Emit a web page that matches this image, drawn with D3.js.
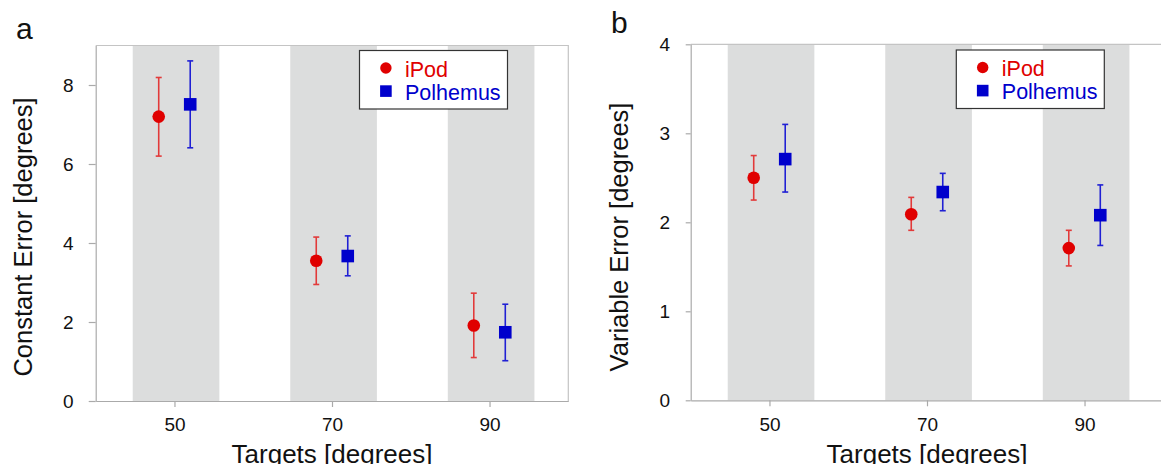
<!DOCTYPE html>
<html>
<head>
<meta charset="utf-8">
<script src="https://cdn.jsdelivr.net/npm/d3@7"></script>
<style>
  body { margin: 0; background: #fff; }
  svg { display: block; font-family: "Liberation Sans", Arial, sans-serif; }
</style>
</head>
<body>
<div id="chart"></div>
<script>
var targets = [50, 70, 90];
var series = ["iPod", "Polhemus"];
var offsets = [-2, 2];   // each series sits 2 degrees either side of its target

// panel a: constant error
var ipodCE     = [7.20, 3.55, 1.91];
var ipodCElo   = [6.20, 2.95, 1.10];
var ipodCEhi   = [8.19, 4.15, 2.73];
var polCE      = [7.51, 3.67, 1.74];
var polCElo    = [6.41, 3.17, 1.02];
var polCEhi    = [8.61, 4.18, 2.45];

// panel b: variable error
var ipodVE     = [2.50, 2.09, 1.71];
var ipodVElo   = [2.25, 1.91, 1.51];
var ipodVEhi   = [2.75, 2.28, 1.91];
var polVE      = [2.71, 2.34, 2.08];
var polVElo    = [2.34, 2.13, 1.74];
var polVEhi    = [3.10, 2.55, 2.42];

var ticksA = [0, 2, 4, 6, 8];
var ticksB = [0, 1, 2, 3, 4];

var colors = { iPod: "#e00000", Polhemus: "#0000cc" };
var barColors = { iPod: "#e23a3a", Polhemus: "#2020d4" };

var svg = d3.select("#chart").append("svg")
    .attr("width", 1161)
    .attr("height", 464);

function rows(mean, lo, hi, s, k) {
  return targets.map(function(t, i) {
    return { series: s, x: t + offsets[k], y: mean[i], lo: lo[i], hi: hi[i] };
  });
}

function panel(opt) {
  var x = d3.scaleLinear().domain([40, 100]).range([opt.left, opt.left + 472.6]);
  var y = d3.scaleLinear().domain([0, opt.ymax]).range([opt.bottom, opt.top]);
  var g = svg.append("g");

  // grey bands round each target
  g.selectAll("rect.band").data(targets).enter().append("rect")
    .attr("class", "band")
    .attr("x", function(d) { return x(d - 5.3); })
    .attr("width", function(d) { return x(d + 5.7) - x(d - 5.3); })
    .attr("y", y(opt.ymax))
    .attr("height", y(0) - y(opt.ymax))
    .attr("fill", "#dcdddd");

  // frame top and right
  g.append("path")
    .attr("d", "M" + x(40) + "," + y(opt.ymax) + "H" + x(100) + "V" + y(0))
    .attr("fill", "none")
    .attr("stroke", "#c4c4c4")
    .attr("stroke-width", 1.2);

  // axes
  var ya = g.append("g")
    .attr("transform", "translate(" + x(40) + ",0)")
    .call(d3.axisLeft(y).tickValues(opt.ticks).tickFormat(d3.format("d"))
      .tickSize(opt.tickLen).tickPadding(opt.pad).tickSizeOuter(0));
  var xa = g.append("g")
    .attr("transform", "translate(0," + y(0) + ")")
    .call(d3.axisBottom(x).tickValues(targets).tickSize(6).tickPadding(11).tickSizeOuter(0));
  [ya, xa].forEach(function(a) {
    a.attr("font-size", 19).attr("font-family", "Liberation Sans, Arial, sans-serif");
    a.select(".domain").attr("stroke", "#aaaaaa").attr("stroke-width", 1.2);
    a.selectAll(".tick line").attr("stroke", "#aaaaaa").attr("stroke-width", 1.2);
    a.selectAll(".tick text").attr("fill", "#111");
  });

  // error bars and markers
  var data = rows(opt.ipod[0], opt.ipod[1], opt.ipod[2], "iPod", 0)
    .concat(rows(opt.pol[0], opt.pol[1], opt.pol[2], "Polhemus", 1));

  var eb = g.selectAll("g.eb").data(data).enter().append("g").attr("class", "eb")
    .attr("stroke", function(d) { return barColors[d.series]; })
    .attr("stroke-width", 1.6);
  eb.append("line")
    .attr("x1", function(d) { return x(d.x); }).attr("x2", function(d) { return x(d.x); })
    .attr("y1", function(d) { return y(d.lo); }).attr("y2", function(d) { return y(d.hi); });
  eb.append("line")
    .attr("x1", function(d) { return x(d.x) - 3; }).attr("x2", function(d) { return x(d.x) + 3; })
    .attr("y1", function(d) { return y(d.lo); }).attr("y2", function(d) { return y(d.lo); });
  eb.append("line")
    .attr("x1", function(d) { return x(d.x) - 3; }).attr("x2", function(d) { return x(d.x) + 3; })
    .attr("y1", function(d) { return y(d.hi); }).attr("y2", function(d) { return y(d.hi); });

  g.selectAll("circle.pt").data(data.filter(function(d) { return d.series == "iPod"; }))
    .enter().append("circle").attr("class", "pt")
    .attr("cx", function(d) { return x(d.x); })
    .attr("cy", function(d) { return y(d.y); })
    .attr("r", 6.3)
    .attr("fill", colors.iPod);
  g.selectAll("rect.pt").data(data.filter(function(d) { return d.series == "Polhemus"; }))
    .enter().append("rect").attr("class", "pt")
    .attr("x", function(d) { return x(d.x) - 6.3; })
    .attr("y", function(d) { return y(d.y) - 6.3; })
    .attr("width", 12.6).attr("height", 12.6)
    .attr("fill", colors.Polhemus);

  // legend
  var lg = g.append("g").attr("transform", "translate(" + opt.legX + "," + opt.legY + ")");
  lg.append("rect").attr("width", 148).attr("height", 58.5)
    .attr("fill", "#fff").attr("stroke", "#333").attr("stroke-width", 1.2);
  lg.append("circle").attr("cx", 26.4).attr("cy", 17.5).attr("r", 5.7).attr("fill", colors.iPod);
  lg.append("rect").attr("x", 20.6).attr("y", 34.8).attr("width", 11.6).attr("height", 11.6).attr("fill", colors.Polhemus);
  lg.selectAll("text").data(series).enter().append("text")
    .attr("x", 45.5)
    .attr("y", function(d, i) { return 26 + i * 23; })
    .attr("font-size", 21.5)
    .attr("fill", function(d) { return colors[d]; })
    .text(function(d) { return d; });

  // titles
  svg.append("text")
    .attr("x", (x(40) + x(100)) / 2)
    .attr("y", 462.5)
    .attr("text-anchor", "middle")
    .attr("font-size", 26)
    .attr("fill", "#111")
    .text("Targets [degrees]");
  svg.append("text")
    .attr("transform", "translate(" + opt.yTitleX + ",237) rotate(-90)")
    .attr("text-anchor", "middle")
    .attr("font-size", 25.5)
    .attr("fill", "#111")
    .text(opt.yTitle);
  svg.append("text")
    .attr("x", opt.letterX)
    .attr("y", opt.letterY)
    .attr("font-size", 30)
    .attr("fill", "#111")
    .text(opt.letter);
}

panel({
  left: 95.7, top: 45.5, bottom: 401, ymax: 9, ticks: ticksA,
  tickLen: 7, pad: 15,
  ipod: [ipodCE, ipodCElo, ipodCEhi], pol: [polCE, polCElo, polCEhi],
  legX: 359.5, legY: 50.5,
  yTitle: "Constant Error [degrees]", yTitleX: 32, letter: "a", letterX: 16, letterY: 39
});

panel({
  left: 690.7, top: 44.3, bottom: 400.3, ymax: 4, ticks: ticksB,
  tickLen: 5, pad: 15.5,
  ipod: [ipodVE, ipodVElo, ipodVEhi], pol: [polVE, polVElo, polVEhi],
  legX: 956.3, legY: 50,
  yTitle: "Variable Error [degrees]", yTitleX: 628, letter: "b", letterX: 611, letterY: 33
});
</script>
</body>
</html>
